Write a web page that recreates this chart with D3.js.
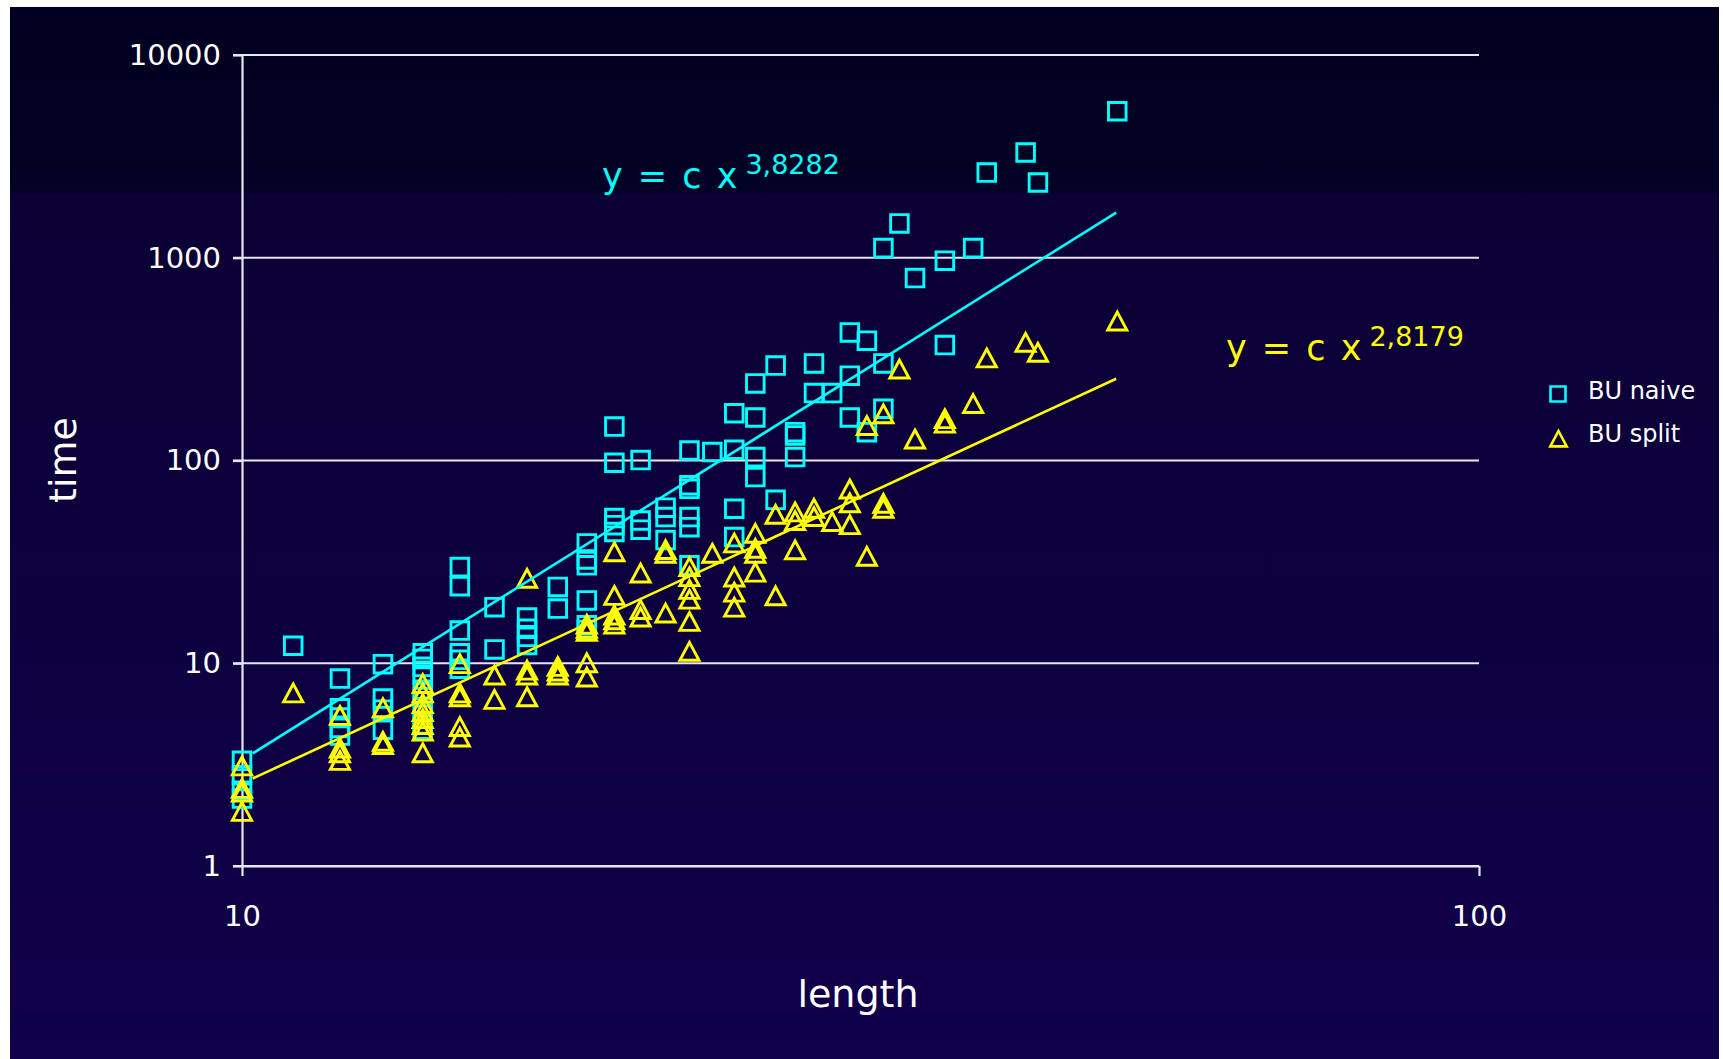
<!DOCTYPE html>
<html>
<head>
<meta charset="utf-8">
<script src="https://cdnjs.cloudflare.com/ajax/libs/d3/7.8.5/d3.min.js"></script>
<style>
body { margin: 0; background: #ffffff; }
svg text { font-family: "DejaVu Sans", Verdana, sans-serif; fill: #ffffff; }
</style>
</head>
<body>
<svg class="chart" width="1723" height="1059"></svg>
<script>
// Values: one column of points per length
var lengths = [10, 11, 12, 13, 14, 15, 16, 17, 18, 19, 20, 21, 22, 23, 24, 25,
               26, 27, 28, 29, 30, 31, 32, 33, 34, 35, 37, 39, 40, 43, 44, 51];

var naiveTimes = [
  [3.3, 2.8, 2.35, 2.15], [12.2], [8.4, 6.0, 5.4, 4.8, 4.4], [9.9, 6.7, 5.9, 4.7],
  [11.2, 10.5, 9.6, 8.8, 7.4, 6.8, 5.8, 5.0, 4.7], [29.8, 24.0, 14.5, 11.2, 10.4, 9.4],
  [18.9, 11.7], [16.8, 14.8, 13.5, 12.3], [23.8, 18.6], [39, 32.5, 30.4, 20.4, 15.4, 14.6],
  [147, 97.5, 52, 48, 44.4], [100.5, 50.6, 45.6], [58.5, 52.6, 40.5],
  [112, 75.5, 72.5, 52.6, 46.9, 30.4], [110], [171, 113, 57.8, 41.9], [240, 163, 104, 82.8],
  [294, 64], [138, 133, 104], [301, 215], [215], [428, 262, 163], [390, 138],
  [1116, 301, 180], [1476], [794], [967, 371], [1116], [2630], [3305], [2350], [5280]
];

var splitTimes = [
  [3.1, 2.4, 2.3, 1.85], [7.1], [5.5, 3.8, 3.6, 3.3], [6.0, 4.1, 3.95],
  [7.9, 7.1, 6.3, 5.75, 5.3, 4.95, 4.6, 3.6], [9.9, 7.1, 6.8, 4.85, 4.3],
  [8.7, 6.6], [26.1, 9.2, 8.7, 6.8], [9.6, 9.1, 8.7], [15.5, 14.8, 14.3, 10.0, 8.5],
  [35.3, 21.5, 17.2, 16.3, 15.5], [27.7, 18.3, 16.8], [36.2, 34.7, 17.6],
  [29.8, 26.6, 23, 20.6, 16, 11.4], [34.7], [39, 26.5, 22.3, 18.8], [43.5, 36.7, 34.7, 28],
  [54, 21.4], [55.5, 50.3, 36.1], [57.8, 52.6], [49.7], [72, 61.5, 48], [148, 33.5],
  [169, 61.2, 57.8], [281], [127], [160, 152], [190], [319], [381], [340], [485]
];

// power trendlines, ends (straight on log-log)
var naiveTrend = [[10.2, 3.59], [50.9, 1671]];
var splitTrend = [[10.2, 2.70], [50.9, 253]];
var naiveExponent = "3,8282";
var splitExponent = "2,8179";

var yTicks = [1, 10, 100, 1000, 10000];
var xTicks = [10, 100];
var seriesNames = ["BU naive", "BU split"];

var cyan = "#00ffff", yellow = "#ffff00", grid = "#e8e6f2";

var svg = d3.select(".chart");

// background with the dark band at the top
var defs = svg.append("defs");
var grad = defs.append("linearGradient").attr("id", "bg")
    .attr("x1", 0).attr("y1", 0).attr("x2", 0).attr("y2", 1);
grad.append("stop").attr("offset", "0").attr("stop-color", "#000021");
grad.append("stop").attr("offset", "0.176").attr("stop-color", "#020224");
grad.append("stop").attr("offset", "0.177").attr("stop-color", "#0b0134");
grad.append("stop").attr("offset", "1").attr("stop-color", "#10004b");

svg.append("rect")
    .attr("x", 10).attr("y", 7)
    .attr("width", 1709).attr("height", 1052)
    .attr("fill", "url(#bg)");

var x = d3.scaleLog().domain([10, 100]).range([242, 1479]);
var y = d3.scaleLog().domain([1, 10000]).range([866, 55]);

// horizontal gridlines
svg.append("g").selectAll("line")
    .data(yTicks)
    .enter().append("line")
    .attr("x1", 233).attr("x2", 1479)
    .attr("y1", d => y(d)).attr("y2", d => y(d))
    .attr("stroke", grid).attr("stroke-width", 2.2);

// axes
var yAxis = svg.append("g")
    .attr("transform", "translate(242,0)")
    .call(d3.axisLeft(y).tickValues(yTicks).tickFormat(d3.format("d"))
          .tickSize(9).tickSizeOuter(0).tickPadding(12));

var xAxis = svg.append("g")
    .attr("transform", "translate(0,866)")
    .call(d3.axisBottom(x).tickValues(xTicks).tickFormat(d3.format("d"))
          .tickSize(10).tickSizeOuter(0).tickPadding(29));

[yAxis, xAxis].forEach(function (a) {
  a.selectAll("path, line").attr("stroke", grid).attr("stroke-width", 2.2);
  a.selectAll("text").attr("fill", "#ffffff")
      .style("font-size", "29px")
      .style("font-family", "'DejaVu Sans', Verdana, sans-serif");
});

// axis titles
svg.append("text")
    .attr("x", 858).attr("y", 1007)
    .attr("text-anchor", "middle")
    .style("font-size", "38px")
    .text("length");

svg.append("text")
    .attr("transform", "translate(76,460) rotate(-90)")
    .attr("text-anchor", "middle")
    .style("font-size", "38px")
    .text("time");

// flatten columns into points
var naivePts = [], splitPts = [];
lengths.forEach(function (l, i) {
  naiveTimes[i].forEach(t => naivePts.push({ l: l, t: t }));
  splitTimes[i].forEach(t => splitPts.push({ l: l, t: t }));
});

var squarePath = "M-8.8,-8.8H8.8V8.8H-8.8Z";
var trianglePath = "M0,-9.4L9.6,8.5H-9.6Z";

svg.append("g").selectAll("path")
    .data(naivePts)
    .enter().append("path")
    .attr("d", squarePath)
    .attr("transform", d => "translate(" + x(d.l) + "," + y(d.t) + ")")
    .attr("fill", "none").attr("stroke", cyan).attr("stroke-width", 2.9);

svg.append("g").selectAll("path")
    .data(splitPts)
    .enter().append("path")
    .attr("d", trianglePath)
    .attr("transform", d => "translate(" + x(d.l) + "," + y(d.t) + ")")
    .attr("fill", "none").attr("stroke", yellow).attr("stroke-width", 2.9)
    .attr("stroke-linejoin", "miter");

// trendlines
var line = d3.line().x(d => x(d[0])).y(d => y(d[1]));
svg.append("path").datum(naiveTrend)
    .attr("d", line).attr("fill", "none")
    .attr("stroke", cyan).attr("stroke-width", 2.6);
svg.append("path").datum(splitTrend)
    .attr("d", line).attr("fill", "none")
    .attr("stroke", yellow).attr("stroke-width", 2.6);

// equation labels
function equation(px, py, exponent, color) {
  var t = svg.append("text")
      .attr("x", px).attr("y", py)
      .style("fill", color)
      .style("font-size", "35px")
      .style("word-spacing", "4px");
  t.append("tspan").text("y = c x");
  t.append("tspan")
      .attr("dx", 8).attr("dy", -14)
      .style("font-size", "27px")
      .text(exponent);
}
equation(602, 188, naiveExponent, cyan);
equation(1226, 360, splitExponent, yellow);

// legend
var legend = svg.append("g");
legend.append("path")
    .attr("d", "M-7.5,-7.5H7.5V7.5H-7.5Z")
    .attr("transform", "translate(1558,394)")
    .attr("fill", "none").attr("stroke", cyan).attr("stroke-width", 2.6);
legend.append("path")
    .attr("d", "M0,-8L8.2,7.4H-8.2Z")
    .attr("transform", "translate(1558.5,439)")
    .attr("fill", "none").attr("stroke", yellow).attr("stroke-width", 2.6);
legend.selectAll("text")
    .data(seriesNames)
    .enter().append("text")
    .attr("x", 1588)
    .attr("y", (d, i) => 399 + i * 43)
    .style("font-size", "24px")
    .text(d => d);
</script>
</body>
</html>
